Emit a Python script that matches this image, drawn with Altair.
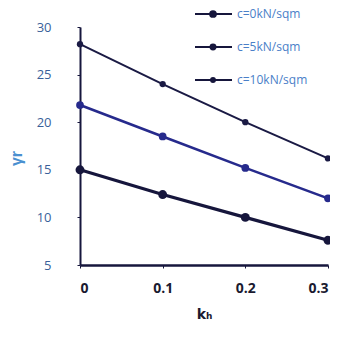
import altair as alt
import pandas as pd

kh = [0, 0.1, 0.2, 0.3]
series = ["c=0kN/sqm", "c=5kN/sqm", "c=10kN/sqm"]
c0 = [15.0, 12.4, 10.0, 7.6]
c5 = [21.8, 18.5, 15.2, 12.0]
c10 = [28.2, 24.0, 20.0, 16.2]

rows = []
for name, vals in zip(series, [c0, c5, c10]):
    for k, v in zip(kh, vals):
        rows.append({"kh": k, "gamma": v, "series": name})
df = pd.DataFrame(rows)
leg = pd.DataFrame({"series": series})

colors = ["#16163c", "#262a8c", "#1a1a44"]
cscale = alt.Scale(domain=series, range=colors)

x = alt.X("kh:Q", scale=alt.Scale(domain=[0, 0.3], nice=False),
          axis=alt.Axis(values=kh, format="~g", title="kₕ", grid=False,
                        labelColor="#1a1a30", labelFontWeight="bold", labelFontSize=14,
                        labelFont="Open Sans", tickSize=3, labelPadding=13,
                        titleFontSize=14, titleFontWeight="bold", titleColor="#1a1a30",
                        titleFont="DejaVu Sans",
                        titlePadding=12, domainColor="#16163c", domainWidth=2.5,
                        tickColor="#16163c"))
y = alt.Y("gamma:Q", scale=alt.Scale(domain=[5, 30], nice=False),
          axis=alt.Axis(values=[5, 10, 15, 20, 25, 30], title="γr", grid=False,
                        labelColor="#3a5f9a", labelFontSize=13, labelFont="Open Sans",
                        tickSize=3, labelPadding=26, titleColor="#4a90d0",
                        titleFontSize=16, titleX=-56, titleY=131,
                        domainColor="#16163c", domainWidth=2, tickColor="#16163c"))

lines = alt.Chart(df).mark_line().encode(
    x=x, y=y, color=alt.Color("series:N", scale=cscale, legend=None),
    strokeWidth=alt.StrokeWidth("series:N", scale=alt.Scale(domain=series, range=[3.2, 2, 2]), legend=None),
)
points = alt.Chart(df).mark_point(filled=True, opacity=1).encode(
    x=x, y=y,
    color=alt.Color("series:N", scale=cscale, legend=None),
    size=alt.Size("series:N", scale=alt.Scale(domain=series, range=[80, 40, 40]), legend=None),
)
data_layer = alt.layer(lines, points)

ly = alt.Y("series:N", sort=series, scale=alt.Scale(type="point", domain=series, range=[-13, 53], padding=0), axis=None)
leg_rule = alt.Chart(leg).mark_rule(color="#16163c", strokeWidth=2).encode(
    x=alt.value(115), x2=alt.value(152), y=ly)
leg_pt = alt.Chart(leg).mark_point(filled=True, opacity=1, color="#16163c").encode(
    x=alt.value(133), y=ly,
    size=alt.Size("series:N", scale=alt.Scale(domain=series, range=[60, 35, 35]), legend=None))
leg_txt = alt.Chart(leg).mark_text(align="left", baseline="middle", color="#4a80c8",
                                   fontSize=12, font="Open Sans").encode(
    x=alt.value(157), y=ly, text="series:N")
legend_layer = alt.layer(leg_rule, leg_pt, leg_txt)

chart = alt.layer(data_layer, legend_layer).resolve_scale(
    y="independent", size="independent"
).properties(
    width=248, height=238,
    autosize=alt.AutoSizeParams(type="none"),
    padding={"left": 72, "top": 19, "right": 2, "bottom": 70},
    background="white",
).configure_view(stroke=None)

chart.save("out.html", embed_options={"renderer": "svg", "actions": False})
